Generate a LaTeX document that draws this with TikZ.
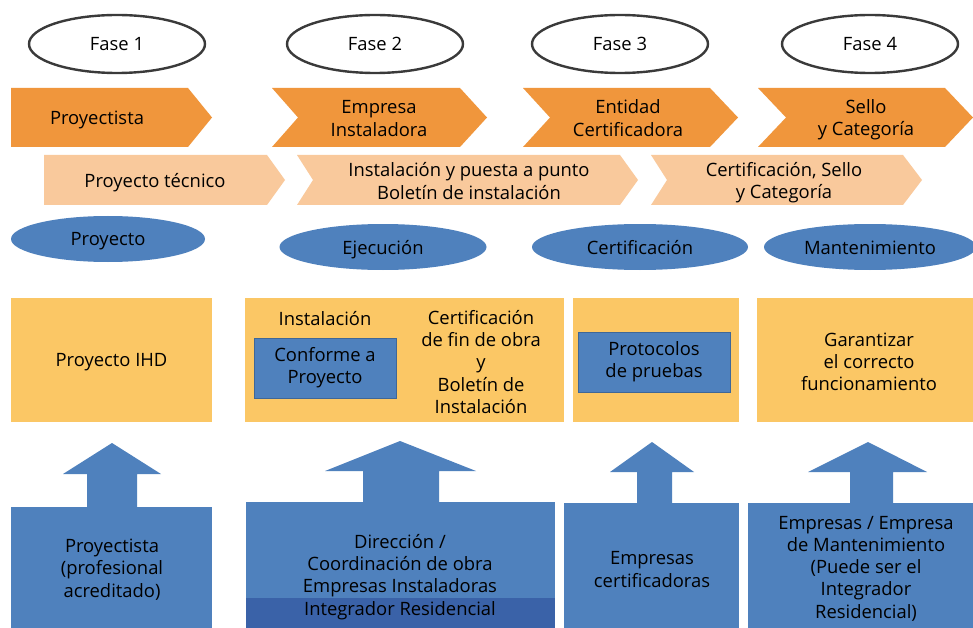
\documentclass[tikz,border=0pt]{standalone}
\usepackage{fontspec}
\setmainfont{Open Sans}
\usetikzlibrary{shapes.geometric}
\definecolor{orng}{HTML}{F0963C}
\definecolor{peach}{HTML}{F9C99C}
\definecolor{bluef}{HTML}{4F81BD}
\definecolor{blued}{HTML}{3A62A8}
\definecolor{yel}{HTML}{FBC765}
\definecolor{rim}{HTML}{3A3A3A}
\tikzset{
  txt/.style={align=center, inner sep=0pt, font=\fontsize{18.4}{22.3}\selectfont, text=black},
  fase/.style={ellipse, draw=rim, line width=2.4pt, fill=white, minimum width=176pt, minimum height=58pt, inner sep=0pt, txt},
  phase/.style={ellipse, fill=bluef, minimum height=46pt, inner sep=0pt, txt},
  ybox/.style={rectangle, fill=yel, inner sep=0pt, minimum height=124pt},
  bbox/.style={rectangle, fill=bluef, inner sep=0pt},
  inbox/.style={rectangle, fill=bluef, draw=bluef!80!black, line width=0.6pt, inner sep=0pt},
}
\begin{document}
\begin{tikzpicture}[x=1pt,y=-1pt]
\useasboundingbox (0,0) rectangle (973,628);
\fill[white] (0,0) rectangle (973,628);

% phase ellipses
\node[fase] (f1) at (117,44) {Fase 1};
\node[fase] (f2) at (375,44) {Fase 2};
\node[fase] (f3) at (620,44) {Fase 3};
\node[fase] (f4) at (870,44) {Fase 4};

% orange chevrons
\fill[orng] (11,88) -- (188,88) -- (212,117.5) -- (188,147) -- (11,147) -- cycle;
\fill[orng] (272,88) -- (460,88) -- (487,117.5) -- (460,147) -- (272,147) -- (298,117.5) -- cycle;
\fill[orng] (523,88) -- (710,88) -- (738,117.5) -- (710,147) -- (523,147) -- (550,117.5) -- cycle;
\fill[orng] (758,88) -- (945,88) -- (973,117.5) -- (945,147) -- (758,147) -- (786,117.5) -- cycle;
\node[txt] (o1) at (97,119.5) {Proyectista};
\node[txt] (o2) at (379,118.5) {Empresa\\Instaladora};
\node[txt] (o3) at (628,118) {Entidad\\Certificadora};
\node[txt] (o4) at (866,120) {Sello\\y Categoría};

% peach chevrons
\fill[peach] (44,155) -- (267,155) -- (285,180) -- (267,205) -- (44,205) -- cycle;
\fill[peach] (297,155) -- (620,155) -- (638,180) -- (620,205) -- (297,205) -- (313,180) -- cycle;
\fill[peach] (651,155) -- (903,155) -- (922,180) -- (903,205) -- (651,205) -- (667,180) -- cycle;
\node[txt] (p1) at (155,183) {Proyecto técnico};
\node[txt] (p2) at (469,181) {Instalación y puesta a punto\\Boletín de instalación};
\node[txt] (p3) at (784,182.5) {Certificación, Sello\\y Categoría};

% blue ellipses
\node[phase, minimum width=194pt] (e1) at (108,239) {};
\node[phase, minimum width=207pt] (e2) at (383,247) {};
\node[phase, minimum width=216pt] (e3) at (640,247) {};
\node[phase, minimum width=212pt] (e4) at (870,247) {};
\node[txt] at ([yshift=-2.5pt]e1.center) {Proyecto};
\node[txt] at ([yshift=-2.5pt]e2.center) {Ejecución};
\node[txt] at ([yshift=-1pt]e3.center) {Certificación};
\node[txt] at ([yshift=-1pt]e4.center) {Mantenimiento};

% yellow boxes
\node[ybox, minimum width=201pt] (y1) at (111.5,360) {};
\node[ybox, minimum width=319pt] (y2) at (404.5,360) {};
\node[ybox, minimum width=166pt] (y3) at (656,360) {};
\node[ybox, minimum width=216pt] (y4) at (865,360) {};
\node[txt] (t1) at (111.5,362.5) {Proyecto IHD};
\node[txt] (t2a) at (325,318.5) {Instalación};
\node[inbox, minimum width=142pt, minimum height=60pt, txt] (c2) at (325,368) {Conforme a\\Proyecto};
\node[txt] (t2b) at (481,362) {Certificación\\de fin de obra\\y\\Boletín de\\Instalación};
\node[inbox, minimum width=152pt, minimum height=60pt, txt] (c3) at (654,362) {Protocolos\\de pruebas};
\node[txt] (t4) at (869,362) {Garantizar\\el correcto\\funcionamiento};

% blue bottom boxes
\node[bbox, minimum width=201pt, minimum height=121pt] (b1) at (111.5,567.5) {};
\node[bbox, minimum width=309pt, minimum height=126pt] (b2) at (400.5,565) {};
\fill[blued] (b2.south west) rectangle ([yshift=30pt]b2.south east);
\node[bbox, minimum width=175pt, minimum height=125pt] (b3) at (651.5,565.5) {};
\node[bbox, minimum width=225pt, minimum height=125pt] (b4) at (860.5,565.5) {};

% upward arrows
\fill[bluef] (87,508) -- (87,474) -- (63,474) -- (112,443) -- (161,474) -- (137,474) -- (137,508) -- cycle;
\fill[bluef] (363,503) -- (363,471) -- (325,471) -- (400,441) -- (476,471) -- (439,471) -- (439,503) -- cycle;
\fill[bluef] (637,504) -- (637,472) -- (610,472) -- (652,442) -- (694,472) -- (672,472) -- (672,504) -- cycle;
\fill[bluef] (850,504) -- (850,472) -- (808,472) -- (868,442) -- (927,472) -- (893,472) -- (893,504) -- cycle;

\node[txt] (s1) at (112,569.5) {Proyectista\\(profesional\\acreditado)};
\node[txt] (s2) at (400,577) {Dirección /\\Coordinación de obra\\Empresas Instaladoras\\Integrador Residencial};
\node[txt] (s3) at (652,569.5) {Empresas\\certificadoras};
\node[txt] (s4) at (866,568.5) {Empresas / Empresa\\de Mantenimiento\\(Puede ser el\\Integrador\\Residencial)};
\end{tikzpicture}
\end{document}
